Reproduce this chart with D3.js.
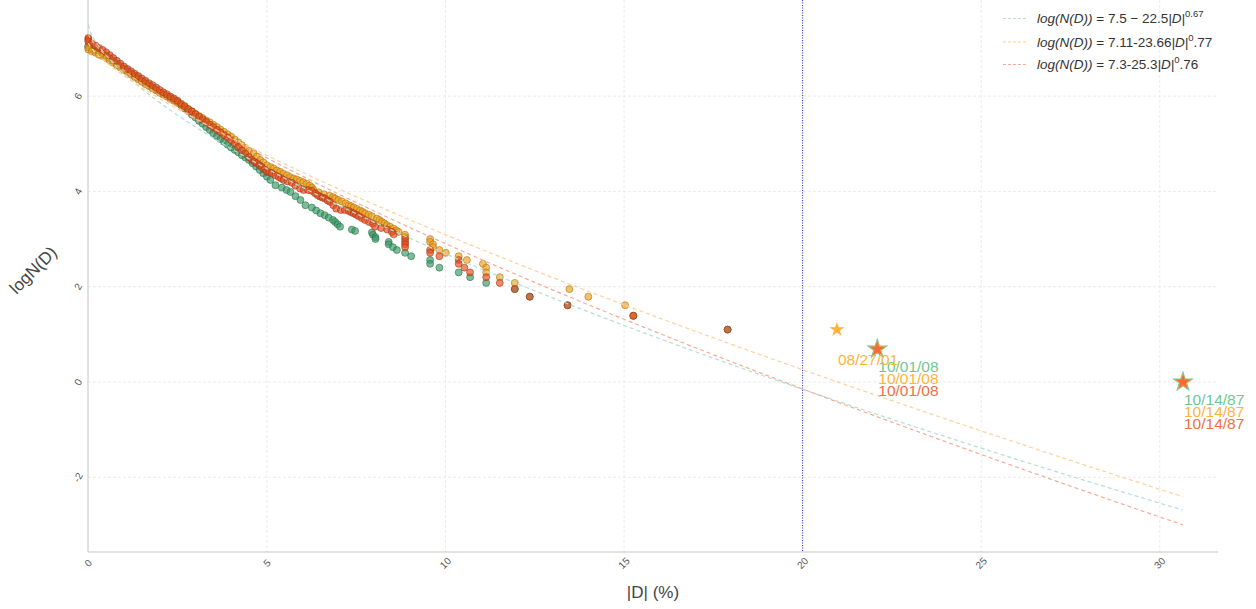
<!DOCTYPE html>
<html>
<head>
<meta charset="utf-8">
<script src="https://cdn.jsdelivr.net/npm/d3@7"></script>
<style>
  body { margin: 0; background: #fff; }
  text { font-family: "Liberation Sans", Arial, sans-serif; }
</style>
</head>
<body>
<div id="chart"></div>
<script>
// sorted drawdowns: [|D| in %, log N(D)]
var greenPts = [
  [0,7.06],[0,7.02],[0.1,6.99],[0.2,6.95],[0.3,6.92],[0.4,6.88],[0.5,6.85],[0.6,6.80],[0.7,6.74],[0.8,6.69],[0.9,6.63],
  [1.0,6.58],[1.1,6.53],[1.2,6.48],[1.3,6.43],[1.4,6.38],[1.5,6.33],[1.6,6.28],[1.7,6.23],[1.8,6.18],[1.9,6.13],
  [2.0,6.08],[2.1,6.04],[2.2,6.00],[2.3,5.96],[2.4,5.92],[2.5,5.88],[2.6,5.81],[2.7,5.74],[2.8,5.68],[2.9,5.61],
  [3.0,5.55],[3.1,5.48],[3.2,5.42],[3.3,5.35],[3.4,5.29],[3.5,5.22],[3.6,5.16],[3.7,5.10],[3.8,5.04],[3.9,4.98],
  [4.0,4.92],[4.1,4.87],[4.2,4.82],[4.3,4.76],[4.4,4.71],[4.5,4.66],[4.6,4.59],[4.7,4.52],[4.8,4.45],[4.9,4.38],
  [5.0,4.31],[5.1,4.24],[5.24,4.13],[5.42,4.08],[5.55,4.03],[5.66,3.99],[5.8,3.90],[5.94,3.82],[6.08,3.71],[6.26,3.66],
  [6.38,3.60],[6.50,3.54],[6.62,3.50],[6.73,3.45],[6.85,3.40],[6.91,3.36],[6.98,3.31],[7.05,3.26],[7.38,3.20],[7.47,3.17],
  [7.94,3.14],[7.97,3.09],[8.04,3.04],[8.04,3.00],[8.41,2.94],[8.41,2.89],[8.53,2.83],[8.64,2.77],[8.87,2.71],[9.04,2.64],
  [9.57,2.56],[9.57,2.48],[9.83,2.40],[10.37,2.30],[10.69,2.20],[11.14,2.08],[11.94,1.95],[12.36,1.79],[13.42,1.61],
  [15.26,1.39],[17.9,1.10]
];
var orangePts = [
  [0,7.03],[0,6.98],[0.1,6.94],[0.2,6.91],[0.3,6.87],[0.4,6.84],[0.5,6.80],[0.6,6.75],[0.7,6.70],[0.8,6.65],[0.9,6.60],
  [1.0,6.55],[1.1,6.50],[1.2,6.45],[1.3,6.40],[1.4,6.35],[1.5,6.30],[1.6,6.25],[1.7,6.21],[1.8,6.16],[1.9,6.12],
  [2.0,6.07],[2.1,6.03],[2.2,5.99],[2.3,5.94],[2.4,5.90],[2.5,5.86],[2.6,5.81],[2.7,5.77],[2.8,5.72],[2.9,5.68],
  [3.0,5.63],[3.1,5.58],[3.2,5.54],[3.3,5.49],[3.4,5.45],[3.5,5.40],[3.6,5.35],[3.7,5.30],[3.8,5.25],[3.9,5.20],
  [4.0,5.15],[4.1,5.09],[4.2,5.03],[4.3,4.97],[4.4,4.91],[4.5,4.85],[4.63,4.80],[4.72,4.73],[4.81,4.66],[4.9,4.61],
  [5.0,4.55],[5.1,4.51],[5.19,4.48],[5.28,4.44],[5.37,4.41],[5.46,4.37],[5.56,4.34],[5.65,4.30],[5.75,4.27],[5.84,4.25],
  [5.93,4.22],[6.02,4.19],[6.12,4.16],[6.2,4.12],[6.26,4.08],[6.31,4.03],[6.45,3.98],[6.6,3.94],[6.75,3.91],[6.85,3.88],
  [6.91,3.85],[7.0,3.82],[7.1,3.79],[7.2,3.75],[7.29,3.71],[7.36,3.69],[7.43,3.66],[7.52,3.63],[7.61,3.60],[7.68,3.57],
  [7.75,3.54],[7.85,3.51],[7.94,3.48],[8.08,3.43],[8.15,3.40],[8.22,3.36],[8.29,3.33],[8.36,3.29],[8.45,3.26],[8.55,3.22],
  [8.62,3.18],[8.69,3.15],[8.87,3.09],[8.87,3.04],[9.57,3.00],[9.57,2.94],[9.65,2.89],[9.65,2.83],[9.83,2.77],[10.01,2.71],
  [10.37,2.64],[10.6,2.56],[11.05,2.48],[11.14,2.40],[11.14,2.30],[11.52,2.20],[11.94,2.08],[13.47,1.95],[14.0,1.79],
  [15.03,1.61],[15.26,1.39]
];
var redPts = [
  [0,7.22],[0,7.19],[0,7.15],[0.1,7.10],[0.2,7.06],[0.3,7.01],[0.4,6.97],[0.5,6.92],[0.6,6.86],[0.7,6.80],[0.8,6.74],[0.9,6.68],
  [1.0,6.62],[1.1,6.57],[1.2,6.52],[1.3,6.47],[1.4,6.42],[1.5,6.37],[1.6,6.32],[1.7,6.27],[1.8,6.23],[1.9,6.18],
  [2.0,6.13],[2.1,6.08],[2.2,6.04],[2.3,5.99],[2.4,5.95],[2.5,5.90],[2.6,5.84],[2.7,5.79],[2.8,5.73],[2.9,5.68],
  [3.0,5.62],[3.1,5.57],[3.2,5.51],[3.3,5.46],[3.4,5.40],[3.5,5.35],[3.6,5.29],[3.7,5.24],[3.8,5.18],[3.9,5.13],
  [4.0,5.07],[4.1,5.00],[4.2,4.93],[4.3,4.86],[4.4,4.79],[4.5,4.72],[4.58,4.66],[4.65,4.62],[4.72,4.59],[4.79,4.55],
  [4.86,4.51],[4.93,4.46],[5.0,4.41],[5.07,4.40],[5.14,4.38],[5.24,4.34],[5.33,4.30],[5.4,4.27],[5.47,4.24],[5.58,4.21],
  [5.70,4.18],[5.8,4.12],[5.93,4.06],[6.03,4.03],[6.15,4.03],[6.26,4.01],[6.35,3.96],[6.42,3.92],[6.49,3.89],[6.56,3.87],
  [6.63,3.85],[6.7,3.81],[6.77,3.78],[6.86,3.71],[6.94,3.64],[7.07,3.61],[7.18,3.61],[7.29,3.59],[7.36,3.56],[7.43,3.54],
  [7.5,3.51],[7.57,3.48],[7.66,3.44],[7.75,3.40],[7.86,3.36],[7.97,3.32],[8.03,3.26],[8.2,3.23],[8.37,3.20],[8.5,3.15],
  [8.55,3.10],[8.87,3.00],[8.87,2.94],[8.87,2.89],[8.87,2.83],[9.57,2.77],[9.57,2.71],[9.83,2.64],[10.37,2.56],[10.37,2.48],
  [10.53,2.40],[10.69,2.30],[11.14,2.20],[11.52,2.08],[11.94,1.95],[12.36,1.79],[13.42,1.61],[15.26,1.39],[17.9,1.10]
];

// extreme drawdowns (beyond threshold) drawn as stars with dates
var greenStars = [[30.65,0],[22.09,0.69]];
var greenDates = ["10/14/87","10/01/08"];
var orangeStars = [[30.65,0],[22.09,0.69],[20.96,1.10]];
var orangeDates = ["10/14/87","10/01/08","08/27/01"];
var redStars = [[30.65,0],[22.09,0.69]];
var redDates = ["10/14/87","10/01/08"];

// fitted curves  log(N(D)) = a - b*|D|^c   (D as fraction)
var fitA = [7.5, 7.11, 7.3];
var fitB = [22.5, 23.66, 25.3];
var fitC = [0.67, 0.77, 0.76];
var fitMaxD = 30.65;
var threshold = 20;

var xTicks = [0,5,10,15,20,25,30];
var yTicks = [-2,0,2,4,6];

var W = 1256, H = 609;
var fillCol = ["#3a9a66", "#eda01c", "#e24e20"];
var edgeCol = ["#256e46", "#a86c08", "#a0340f"];
var starCol = ["#6cc49c", "#fdb338", "#f26b3a"];
var labelCol = ["#6ec896", "#fdb43c", "#f56e46"];
var lineCol = ["#b3e0cf", "#fdd09c", "#f8ab94"];
var labelDy = [23, 35, 47];

var svg = d3.select("#chart").append("svg")
  .attr("width", W).attr("height", H);

var x = d3.scaleLinear().domain([0, 31.63]).range([88.3, 1218]);
var y = d3.scaleLinear().domain([-3.568, 7.975]).range([552, 2]);

// grid
svg.append("g").selectAll("line").data(xTicks).enter().append("line")
  .attr("x1", function(d){ return x(d); }).attr("x2", function(d){ return x(d); })
  .attr("y1", 0).attr("y2", 552)
  .attr("stroke", "#ebebeb").attr("stroke-dasharray", "3,2");
svg.append("g").selectAll("line").data(yTicks).enter().append("line")
  .attr("x1", 88).attr("x2", 1218)
  .attr("y1", function(d){ return y(d); }).attr("y2", function(d){ return y(d); })
  .attr("stroke", "#ebebeb").attr("stroke-dasharray", "3,2");

// axis lines
svg.append("line").attr("x1", 88).attr("x2", 88).attr("y1", 0).attr("y2", 552)
  .attr("stroke", "#d9d9d9").attr("stroke-width", 1.5);
svg.append("line").attr("x1", 88).attr("x2", 1218).attr("y1", 552).attr("y2", 552)
  .attr("stroke", "#d9d9d9").attr("stroke-width", 1.5);

// tick labels
svg.append("g").selectAll("text").data(xTicks).enter().append("text")
  .attr("transform", function(d){ return "translate(" + x(d) + ",563) rotate(-45)"; })
  .attr("text-anchor", "middle").attr("dy", "0.35em")
  .attr("font-size", 10).attr("fill", "#555")
  .text(function(d){ return d; });
svg.append("g").selectAll("text").data(yTicks).enter().append("text")
  .attr("transform", function(d){ return "translate(78," + y(d) + ") rotate(-60)"; })
  .attr("text-anchor", "middle").attr("dy", "0.35em")
  .attr("font-size", 10).attr("fill", "#555")
  .text(function(d){ return d; });

// axis titles
svg.append("text").attr("x", 653).attr("y", 598)
  .attr("text-anchor", "middle").attr("font-size", 17).attr("fill", "#444")
  .text("|D| (%)");
svg.append("text").attr("transform", "translate(33,270) rotate(-45)")
  .attr("text-anchor", "middle").attr("dy", "0.35em").attr("font-size", 17).attr("fill", "#444")
  .text("logN(D)");

// threshold line
svg.append("line").attr("x1", x(threshold)).attr("x2", x(threshold))
  .attr("y1", 0).attr("y2", 552)
  .attr("stroke", "#2a2ad0").attr("stroke-width", 1).attr("stroke-dasharray", "1,1.5");

// points
var allPts = [greenPts, orangePts, redPts];
allPts.forEach(function(pts, i) {
  svg.append("g").selectAll("circle").data(pts).enter().append("circle")
    .attr("cx", function(d){ return x(d[0]); })
    .attr("cy", function(d){ return y(d[1]); })
    .attr("r", 3.5)
    .attr("fill", fillCol[i]).attr("fill-opacity", 0.66)
    .attr("stroke", edgeCol[i]).attr("stroke-opacity", 0.7).attr("stroke-width", 0.8);
});

// fitted lines
var fitGrid = d3.range(0, fitMaxD + 0.001, 0.05);
var line = d3.line()
  .x(function(d){ return x(d[0]); })
  .y(function(d){ return y(d[1]); });
fitA.forEach(function(a, i) {
  var pts = fitGrid.map(function(d){ return [d, a - fitB[i] * Math.pow(d / 100, fitC[i])]; });
  svg.append("path").attr("d", line(pts))
    .attr("fill", "none").attr("stroke", lineCol[i]).attr("stroke-width", 1.2)
    .attr("stroke-dasharray", "4,3");
});

// stars + labels
var allStars = [greenStars, orangeStars, redStars];
var allDates = [greenDates, orangeDates, redDates];
allStars.forEach(function(stars, i) {
  svg.append("g").selectAll("path").data(stars).enter().append("path")
    .attr("transform", function(d){ return "translate(" + x(d[0]) + "," + y(d[1]) + ")"; })
    .attr("d", function(d){
      var s = i == 0 ? 150 : (i == 1 ? (d[1] > 1 ? 70 : 95) : 70);
      return d3.symbol().type(d3.symbolStar).size(s)();
    })
    .attr("fill", starCol[i]);
});
allStars.forEach(function(stars, i) {
  svg.append("g").selectAll("text").data(stars).enter().append("text")
    .attr("x", function(d){ return x(d[0]) + 1; })
    .attr("y", function(d){ return y(d[1]) + labelDy[i]; })
    .attr("font-size", 15.5).attr("fill", labelCol[i])
    .text(function(d, j){ return allDates[i][j]; });
});

// legend
var legend = svg.append("g");
var legRows = [
  [["log(N(D))", "i"], [" = 7.5 \u2212 22.5", ""], ["|D|", "i"], ["0.67", "s"]],
  [["log(N(D))", "i"], [" = 7.11-23.66", ""], ["|D|", "i"], ["0", "s"], [".77", ""]],
  [["log(N(D))", "i"], [" = 7.3-25.3", ""], ["|D|", "i"], ["0", "s"], [".76", ""]]
];
var legY = [18.5, 42, 64.5];
legRows.forEach(function(row, i) {
  legend.append("line").attr("x1", 1003).attr("x2", 1028)
    .attr("y1", legY[i]).attr("y2", legY[i])
    .attr("stroke", lineCol[i]).attr("stroke-width", 1.2).attr("stroke-dasharray", "3,2");
  var t = legend.append("text").attr("x", 1037).attr("y", legY[i] + 4.5)
    .attr("font-size", 13.5).attr("fill", "#333");
  row.forEach(function(part) {
    var ts = t.append("tspan").text(part[0]);
    if (part[1] == "i") ts.attr("font-style", "italic");
    if (part[1] == "s") ts.attr("font-size", 9.5).attr("dy", -6);
    if (part[1] == "" && part[0].charAt(0) == ".") ts.attr("dy", 6);
  });
});
</script>
</body>
</html>
